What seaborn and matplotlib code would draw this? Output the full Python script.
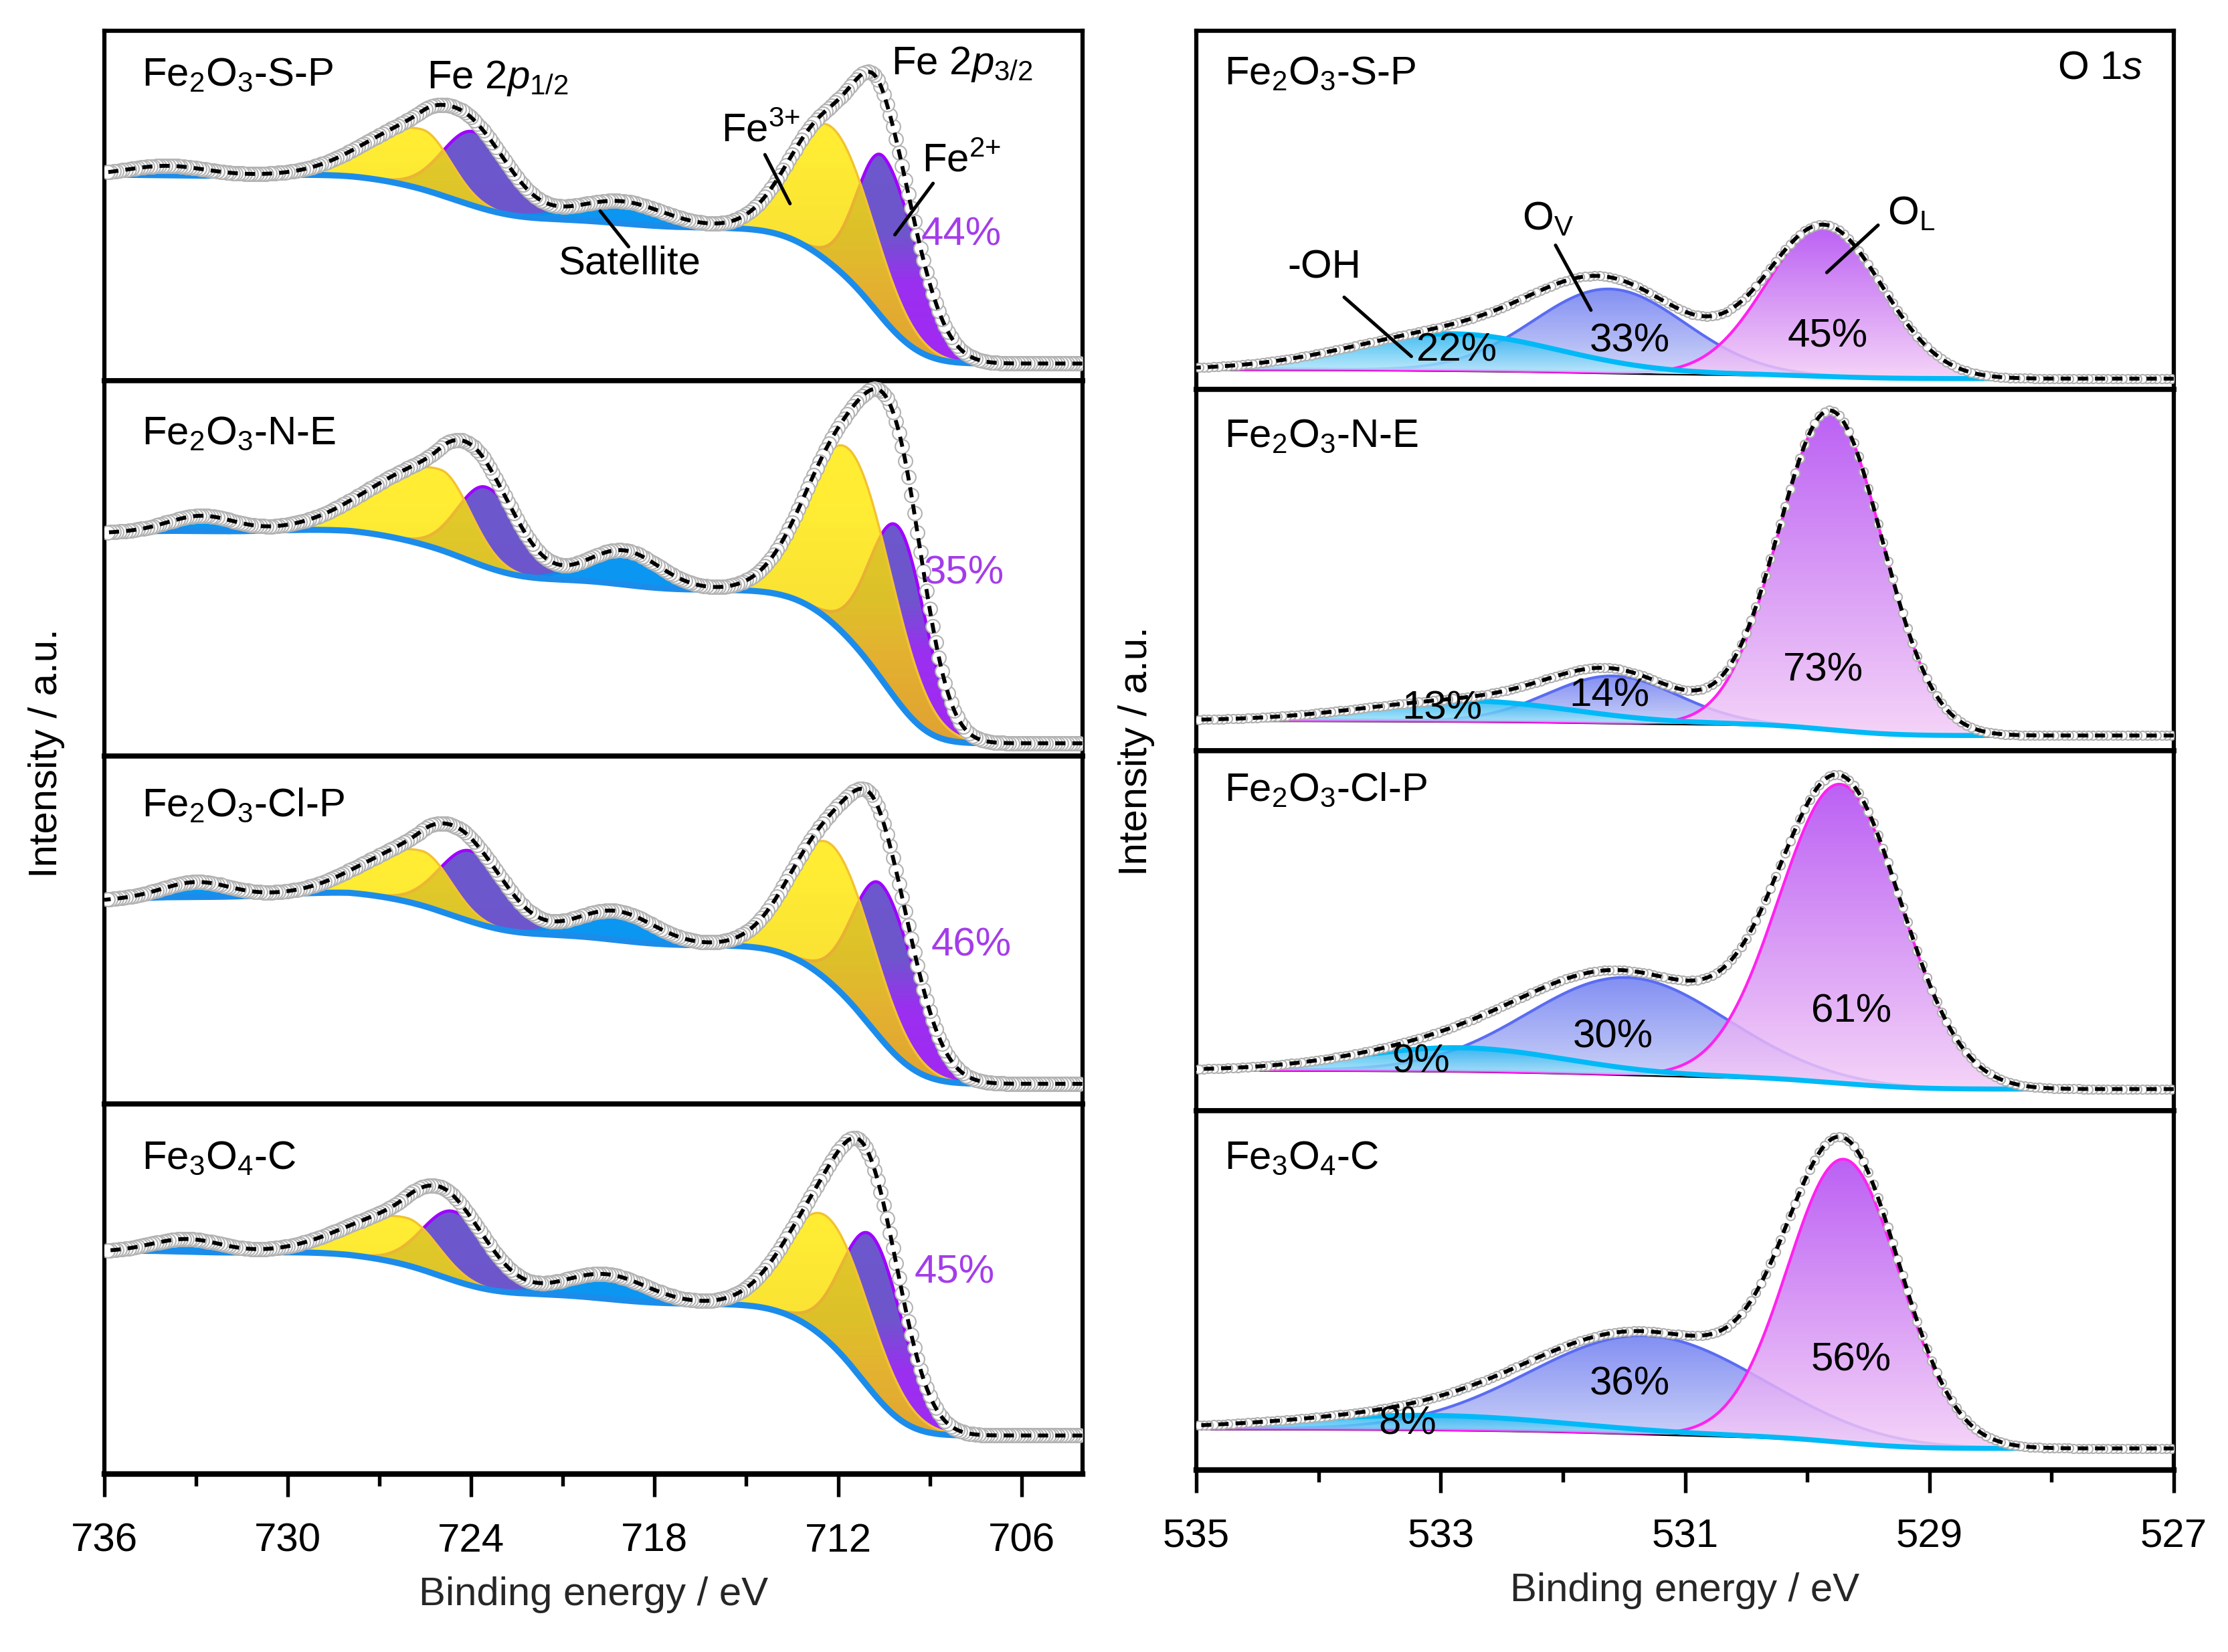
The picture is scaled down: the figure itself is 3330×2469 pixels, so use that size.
import numpy as np
import matplotlib
matplotlib.use("Agg")
import matplotlib.pyplot as plt
import seaborn as sns
from matplotlib.colors import LinearSegmentedColormap
from matplotlib.path import Path

# ------------------------------------------------------------------ data
samples = ["Fe$_2$O$_3$-S-P", "Fe$_2$O$_3$-N-E", "Fe$_2$O$_3$-Cl-P", "Fe$_3$O$_4$-C"]

# Fe 2p fit components:
# order: Fe3+ 2p3/2, Fe2+ 2p3/2, Fe3+ 2p1/2, Fe2+ 2p1/2, satellite ~719 eV, satellite ~733 eV
fe_kind = ["Fe3", "Fe2", "Fe3", "Fe2", "Sat", "Sat"]
fe_center = [
    [712.2, 710.5, 725.6, 723.9, 719.1, 733.9],
    [711.6, 710.0, 725.0, 723.5, 719.0, 732.8],
    [712.2, 710.55, 725.6, 724.0, 719.27, 732.95],
    [712.31, 710.86, 726.1, 724.55, 719.57, 733.26],
]
fe_apex = [  # top of each component curve (component + background), 0-100 per panel
    [72.4, 63.9, 71.8, 71.1, 51.3, 61.4],
    [81.4, 60.8, 76.3, 71.6, 54.8, 64.0],
    [74.4, 62.8, 72.7, 72.7, 55.5, 63.8],
    [69.2, 64.1, 69.2, 70.9, 54.0, 63.5],
]
fe_fwhm_hi = [
    [3.1, 2.0, 4.2, 2.4, 3.4, 3.0],
    [3.3, 2.2, 5.0, 2.2, 2.8, 2.5],
    [3.1, 2.2, 4.2, 2.4, 3.0, 2.6],
    [3.2, 2.3, 4.5, 2.4, 3.2, 2.6],
]
fe_fwhm_lo = [
    [3.2, 2.6, 2.2, 2.8, 3.4, 3.0],
    [3.2, 2.1, 2.3, 2.6, 2.8, 2.5],
    [3.2, 2.6, 2.2, 2.8, 3.0, 2.6],
    [3.3, 2.4, 2.4, 2.8, 3.2, 2.6],
]
# background levels: at 736 eV, plateau ~728 eV, plateau ~718 eV, at 704 eV
fe_bg = [
    [58.8, 60.1, 43.7, 4.9],
    [59.5, 62.0, 44.3, 3.4],
    [58.6, 62.8, 45.6, 5.8],
    [60.2, 61.5, 46.0, 10.4],
]
fe2_share = ["44%", "35%", "46%", "45%"]

# O 1s fit components: -OH, O_V, O_L
o_kind = ["OH", "OV", "OL"]
o_center = [
    [532.9, 531.62, 529.86],
    [532.79, 531.59, 529.81],
    [532.85, 531.48, 529.73],
    [533.1, 531.33, 529.70],
]
o_apex = [
    [15.5, 28.0, 45.5],
    [13.8, 20.7, 94.1],
    [17.5, 37.0, 90.7],
    [15.2, 37.4, 86.5],
]
o_fwhm = [
    [2.0, 1.46, 1.12],
    [2.0, 1.25, 1.0],
    [2.0, 1.9, 1.18],
    [2.6, 2.2, 1.08],
]
o_bg = [  # background at 535 eV and 527 eV
    [5.6, 3.0],
    [8.4, 4.2],
    [11.3, 6.0],
    [11.5, 6.0],
]
o_share = [["22%", "33%", "45%"], ["13%", "14%", "73%"],
           ["9%", "30%", "61%"], ["8%", "36%", "56%"]]

fe_xticks = [736, 730, 724, 718, 712, 706]
fe_xminor = [733, 727, 721, 715, 709]
o_xticks = [535, 533, 531, 529, 527]
o_xminor = [534, 532, 530, 528]

# ------------------------------------------------------------------ style
sns.set_theme(style="white")
plt.rcParams.update({
    "font.family": ["Liberation Sans", "DejaVu Sans"],
    "mathtext.fontset": "custom",
    "mathtext.rm": "Liberation Sans",
    "mathtext.it": "Liberation Sans:italic",
    "mathtext.bf": "Liberation Sans:bold",
    "mathtext.default": "regular",
    "axes.edgecolor": "black",
    "text.color": "black",
    "xtick.color": "black",
})
FS = 14.4
W, H = 3330, 2470

fig = plt.figure(figsize=(W / 300, H / 300), dpi=300)
fig.patch.set_facecolor("white")


def add_column(x0, x1, bounds):
    axs = []
    for k in range(4):
        top, bot = bounds[k], bounds[k + 1]
        axs.append(fig.add_axes([x0 / W, 1 - bot / H, (x1 - x0) / W, (bot - top) / H]))
    return axs


left_axes = add_column(156, 1618, [47, 570, 1131, 1651, 2204])
right_axes = add_column(1788, 3249, [47, 583, 1123, 1661, 2198])


def asym_gauss(E, c, h, whi, wlo):
    s = np.where(E >= c, whi, wlo) / 2.3548
    return h * np.exp(-0.5 * ((E - c) / s) ** 2)


def gradient_fill(ax, x, ytop, ybot, colors, alpha=1.0, zorder=2, span=None):
    cmap = LinearSegmentedColormap.from_list("g", colors)
    verts = np.concatenate([np.column_stack([x, ytop]),
                            np.column_stack([x[::-1], ybot[::-1]]),
                            [[x[0], ytop[0]]]])
    path = Path(verts, closed=True)
    if span is None:
        m = (ytop - ybot) > 0.01 * (ytop - ybot).max()
        lo, hi = ybot[m].min(), ytop.max()
    else:
        lo, hi = span
    im = ax.imshow(np.linspace(0, 1, 256)[:, None], cmap=cmap, origin="lower",
                   aspect="auto", extent=(x.min(), x.max(), lo, hi), alpha=alpha,
                   zorder=zorder, interpolation="bilinear")
    im.set_clip_path(path, transform=ax.transData)


def fe_background(E, comps, centers, levels):
    edge, top, mid, low = levels
    upper = sum(p for p, c in zip(comps, centers) if c > 718)
    lower = sum(p for p, c in zip(comps, centers) if c <= 718)
    cu = np.cumsum(upper); cu = cu / cu[-1]
    cl = np.cumsum(lower); cl = cl / cl[-1]
    tilt = (edge - top) * np.clip((E - 728) / 8.0, 0, 1)
    return low + (mid - low) * cl + (top - mid) * cu + tilt


def fe_model(i, E):
    c = np.array(fe_center[i]); a = np.array(fe_apex[i])
    whi = fe_fwhm_hi[i]; wlo = fe_fwhm_lo[i]
    h = a - np.interp(c, [704, 736], [fe_bg[i][3], fe_bg[i][0]])
    for _ in range(12):
        comps = [asym_gauss(E, c[k], h[k], whi[k], wlo[k]) for k in range(len(c))]
        bg = fe_background(E, comps, c, fe_bg[i])
        h = np.clip(a - np.interp(c, E, bg), 0.3, None)
    comps = [asym_gauss(E, c[k], h[k], whi[k], wlo[k]) for k in range(len(c))]
    bg = fe_background(E, comps, c, fe_bg[i])
    return comps, bg


def o_model(i, E):
    c = np.array(o_center[i]); a = np.array(o_apex[i]); w = o_fwhm[i]
    hi_l, lo_l = o_bg[i]
    h = a - np.interp(c, [527, 535], [lo_l, hi_l])
    for _ in range(12):
        comps = [asym_gauss(E, c[k], h[k], w[k], w[k]) for k in range(3)]
        tot = np.cumsum(sum(comps)); tot = tot / tot[-1]
        bg = lo_l + (hi_l - lo_l) * tot
        h = np.clip(a - np.interp(c, E, bg), 0.3, None)
    comps = [asym_gauss(E, c[k], h[k], w[k], w[k]) for k in range(3)]
    tot = np.cumsum(sum(comps)); tot = tot / tot[-1]
    bg = lo_l + (hi_l - lo_l) * tot
    return comps, bg


FE3_COLORS = ["#F0BE00", "#F8D800", "#FFE800", "#FFEC00"]
FE2_COLORS = [(0.0, "#A526F4"), (0.28, "#9A30F0"), (0.42, "#6E56CC"), (1.0, "#6A5ACD")]
O_COLORS = {
    "OH": (["#BFEBFC", "#22B3F0"], "#00B9F6", 1.8),
    "OV": (["#CBD1F8", "#6C7BF0"], "#5A6CF2", 1.0),
    "OL": (["#F3CCF7", "#B044F2"], "#FF22F0", 1.0),
}
ENV_DASH = (0, (2.6, 1.8))

# ------------------------------------------------------------------ Fe 2p
E_fe = np.linspace(704.0, 736.0, 1601)
E_fe_pts = np.arange(704.1, 736.0, 0.1)
fe_label_y = [0.875, 0.861, 0.86, 0.855]
fe_share_pos = [(707.96, 41.9), (707.87, 48.9), (707.64, 45.7), (708.19, 54.6)]

for i, ax in enumerate(left_axes):
    comps, bg = fe_model(i, E_fe)
    env = bg + sum(comps)
    for k, kind in enumerate(fe_kind):
        top = bg + comps[k]
        if kind == "Fe2":
            gradient_fill(ax, E_fe, top, bg, FE2_COLORS, 1.0, 2, span=(0, 100))
            sns.lineplot(x=E_fe, y=top, ax=ax, color="#A000FF", lw=1.1, zorder=2.1,
                         estimator=None)
    for k, kind in enumerate(fe_kind):
        top = bg + comps[k]
        if kind == "Fe3":
            gradient_fill(ax, E_fe, top, bg, FE3_COLORS, 0.8, 3, span=(0, 100))
            sns.lineplot(x=E_fe, y=top, ax=ax, color="#F2C230", lw=0.8, zorder=3.1,
                         estimator=None)
    for k, kind in enumerate(fe_kind):
        top = bg + comps[k]
        if kind == "Sat":
            ax.fill_between(E_fe, bg, top, color="#0B96F2", lw=0, zorder=4)
            sns.lineplot(x=E_fe, y=top, ax=ax, color="#0A8DEB", lw=1.0, zorder=4.1,
                         estimator=None)
    sns.lineplot(x=E_fe, y=bg, ax=ax, color="#1C8CEB", lw=2.2, zorder=5, estimator=None)
    pts = np.interp(E_fe_pts, E_fe, env)
    sns.scatterplot(x=E_fe_pts, y=pts, ax=ax, s=25, marker="o", facecolor="white",
                    edgecolor="#B2B2B2", linewidth=0.5, zorder=6, legend=False)
    sns.lineplot(x=E_fe, y=env, ax=ax, color="black", lw=1.4, linestyle=ENV_DASH,
                 zorder=7, estimator=None)

    ax.text(0.038, fe_label_y[i], samples[i], transform=ax.transAxes, fontsize=FS,
            ha="left", va="center", zorder=10)
    sx, sy = fe_share_pos[i]
    ax.text(sx, sy, fe2_share[i], color="#A43CEA", fontsize=FS, ha="center",
            va="center", zorder=10)

ax0 = left_axes[0]
ax0.text(725.46, 86.6, "Fe 2$\\mathit{p}_{1/2}$", fontsize=FS, ha="left", va="center", zorder=10)
ax0.text(710.26, 90.7, "Fe 2$\\mathit{p}_{3/2}$", fontsize=FS, ha="left", va="center", zorder=10)
ax0.text(715.83, 71.5, "Fe$^{3{+}}$", fontsize=FS, ha="left", va="center", zorder=10)
ax0.plot([714.39, 713.57], [64.6, 50.6], color="black", lw=1.2, zorder=10)
ax0.text(709.25, 63.0, "Fe$^{2{+}}$", fontsize=FS, ha="left", va="center", zorder=10)
ax0.plot([708.89, 710.14], [56.4, 41.7], color="black", lw=1.2, zorder=10)
ax0.text(718.83, 33.7, "Satellite", fontsize=FS, ha="center", va="center", zorder=10)
ax0.plot([719.78, 718.85], [48.5, 38.3], color="black", lw=1.2, zorder=10)

# ------------------------------------------------------------------ O 1s
E_o = np.linspace(527.0, 535.0, 1601)
E_o_pts = np.arange(527.02, 535.0, 0.04)
o_label_y = [0.882, 0.872, 0.893, 0.87]
o_share_pos = [[(532.87, 11.0), (531.45, 13.7), (529.83, 14.9)],
               [(532.99, 11.8), (531.62, 15.4), (529.87, 22.4)],
               [(533.16, 13.8), (531.59, 20.6), (529.64, 27.7)],
               [(533.27, 13.0), (531.45, 24.1), (529.64, 30.8)]]
o_order = ["OV", "OL", "OH"]

for i, ax in enumerate(right_axes):
    comps, bg = o_model(i, E_o)
    env = bg + sum(comps)
    sns.lineplot(x=E_o, y=bg, ax=ax, color="black", lw=1.2, zorder=1.5, estimator=None)
    for z, name in enumerate(o_order):
        k = o_kind.index(name)
        top = bg + comps[k]
        cols, edge, elw = O_COLORS[name]
        gradient_fill(ax, E_o, top, bg, cols, 0.85, 2 + z)
        sns.lineplot(x=E_o, y=top, ax=ax, color=edge, lw=elw, zorder=2.1 + z,
                     estimator=None)
    pts = np.interp(E_o_pts, E_o, env)
    sns.scatterplot(x=E_o_pts, y=pts, ax=ax, s=10, marker="o", facecolor="white",
                    edgecolor="#B0B0B0", linewidth=0.5, zorder=6, legend=False)
    sns.lineplot(x=E_o, y=env, ax=ax, color="black", lw=1.4, linestyle=ENV_DASH,
                 zorder=7, estimator=None)
    ax.text(0.029, o_label_y[i], samples[i], transform=ax.transAxes, fontsize=FS,
            ha="left", va="center", zorder=10)
    for (sx, sy), s in zip(o_share_pos[i], o_share[i]):
        ax.text(sx, sy, s, fontsize=FS, ha="center", va="center", zorder=10)

r0 = right_axes[0]
r0.text(0.968, 0.897, "O 1$\\mathit{s}$", transform=r0.transAxes, fontsize=FS,
        ha="right", va="center", zorder=10)
r0.text(533.95, 34.1, "-OH", fontsize=FS, ha="center", va="center", zorder=10)
r0.plot([533.79, 533.24], [25.7, 9.2], color="black", lw=1.2, zorder=10)
r0.text(532.12, 47.5, "O$_V$", fontsize=FS, ha="center", va="center", zorder=10)
r0.plot([532.06, 531.77], [40.2, 22.1], color="black", lw=1.2, zorder=10)
r0.text(529.15, 49.0, "O$_L$", fontsize=FS, ha="center", va="center", zorder=10)
r0.plot([529.42, 529.84], [45.8, 32.6], color="black", lw=1.2, zorder=10)

# ------------------------------------------------------------------ axes cosmetics
for axs, xl, maj, mnr in [(left_axes, (736, 704), fe_xticks, fe_xminor),
                          (right_axes, (535, 527), o_xticks, o_xminor)]:
    for j, ax in enumerate(axs):
        ax.set_xlim(*xl)
        ax.set_ylim(0, 100)
        ax.set_facecolor("white")
        ax.set_yticks([])
        ax.set_ylabel("")
        for sp in ax.spines.values():
            sp.set_visible(True)
            sp.set_color("black")
            sp.set_linewidth(1.8)
        ax.spines["left"].set_linewidth(1.5)
        ax.spines["right"].set_linewidth(1.5)
        if j == 0:
            ax.spines["top"].set_linewidth(1.5)
        if j < 3:
            ax.set_xticks([])
            ax.set_xlabel("")
        else:
            ax.spines["bottom"].set_linewidth(2.0)
            ax.set_xticks(maj)
            ax.set_xticks(mnr, minor=True)
            ax.set_xticklabels([str(t) for t in maj])
            ax.tick_params(axis="x", which="major", direction="out", length=8.2,
                           width=1.3, pad=9, labelsize=FS, bottom=True)
            ax.tick_params(axis="x", which="minor", direction="out", length=4.2,
                           width=1.3, bottom=True)
            ax.set_xlabel("Binding energy / eV", fontsize=FS, labelpad=6)

fig.text(70 / W, 1 - 1125.5 / H, "Intensity / a.u.", rotation=90, fontsize=FS,
         ha="center", va="center")
fig.text(1698 / W, 1 - 1122.5 / H, "Intensity / a.u.", rotation=90, fontsize=FS,
         ha="center", va="center")

fig.savefig("out.png", dpi=300, facecolor="white")
